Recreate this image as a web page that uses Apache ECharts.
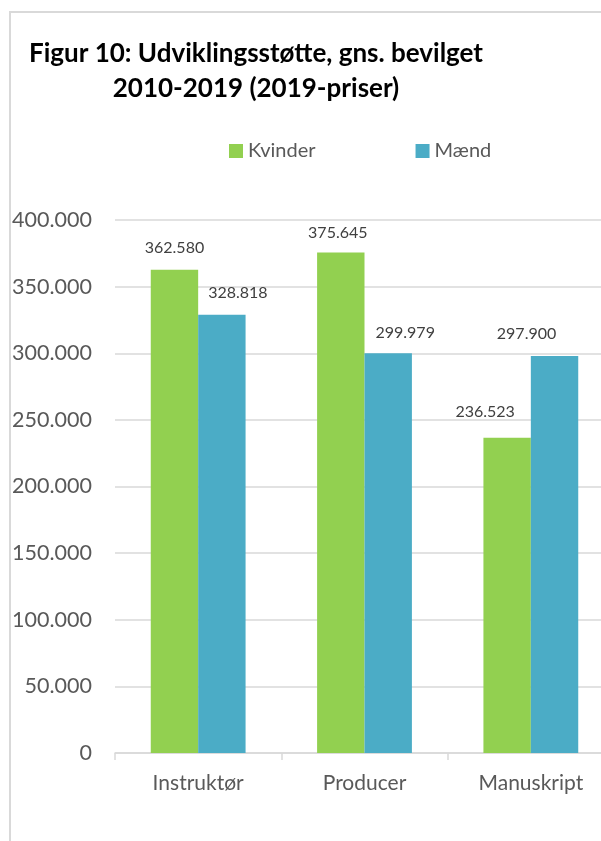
<!DOCTYPE html>
<html>
<head>
<meta charset="utf-8">
<script src="https://cdn.jsdelivr.net/npm/echarts@6/dist/echarts.min.js"></script>
<style>
html,body{margin:0;padding:0;background:#fff;}
#chart{width:601px;height:841px;}
</style>
</head>
<body>
<div id="chart"></div>
<script>
var categories = ['Instruktør', 'Producer', 'Manuskript'];
var seriesNames = ['Kvinder', 'Mænd'];
var kvinder = [362580, 375645, 236523];
var maend = [328818, 299979, 297900];
var titleLines = ['Figur 10: Udviklingsstøtte, gns. bevilget', '2010-2019 (2019-priser)'];

// manual label nudges (pixels) as in the original
var kvinderLabelShift = [[0, 0], [-3, 2], [-22, -4]];
var maendLabelShift = [[16, 0], [17, 2], [-28, 0]];

function fmt(v) {
  return String(v).replace(/\B(?=(\d{3})+(?!\d))/g, '.');
}
function withShift(values, shifts) {
  return values.map(function (v, i) {
    return { value: v, label: { offset: shifts[i] } };
  });
}

var chart = echarts.init(document.getElementById('chart'));
var font = 'Lato, "Open Sans", sans-serif';
var labelStyle = { show: true, position: 'top', distance: 14, fontFamily: font, fontSize: 16, color: '#404040', formatter: function(p){return fmt(p.value);} };
chart.setOption({
  backgroundColor: '#fff',
  animation: false,
  title: {
    text: titleLines.join('\n'),
    left: 256,
    top: 36,
    padding: 0,
    textAlign: 'center',
    textStyle: { fontFamily: font, fontWeight: 'bold', fontSize: 26, lineHeight: 35, color: '#000' }
  },
  graphic: [{
    type: 'rect', silent: true, z: -1,
    shape: { x: 10, y: 12, width: 700, height: 900 },
    style: { fill: 'none', stroke: '#d9d9d9', lineWidth: 2 }
  }],
  legend: {
    left: 224, top: 136,
    itemWidth: 14, itemHeight: 14, itemGap: 100, itemTextGap: 7,
    icon: 'rect',
    textStyle: { fontFamily: font, fontSize: 20, color: '#595959' },
    data: seriesNames
  },
  grid: { left: 115, width: 499, top: 220, bottom: 88, containLabel: false, outerBoundsMode: 'none' },
  xAxis: {
    type: 'category', data: categories,
    axisLine: { lineStyle: { color: '#d9d9d9', width: 1.5 } },
    axisTick: { show: true, length: 7, lineStyle: { color: '#d9d9d9', width: 1.5 } },
    axisLabel: { fontFamily: font, fontSize: 21, color: '#595959', margin: 20 }
  },
  yAxis: {
    type: 'value', min: 0, max: 400000, interval: 50000,
    axisLine: { show: false }, axisTick: { show: false },
    splitLine: { lineStyle: { color: '#d9d9d9', width: 1.5 } },
    axisLabel: { fontFamily: font, fontSize: 21.5, color: '#595959', margin: 23, formatter: fmt }
  },
  series: [
    { name: seriesNames[0], type: 'bar', data: withShift(kvinder, kvinderLabelShift), barGap: '0%', barCategoryGap: '43%',
      itemStyle: { color: '#92d050' }, label: labelStyle },
    { name: seriesNames[1], type: 'bar', data: withShift(maend, maendLabelShift), barGap: '0%', barCategoryGap: '43%',
      itemStyle: { color: '#4bacc6' }, label: labelStyle }
  ]
});
</script>
</body>
</html>
